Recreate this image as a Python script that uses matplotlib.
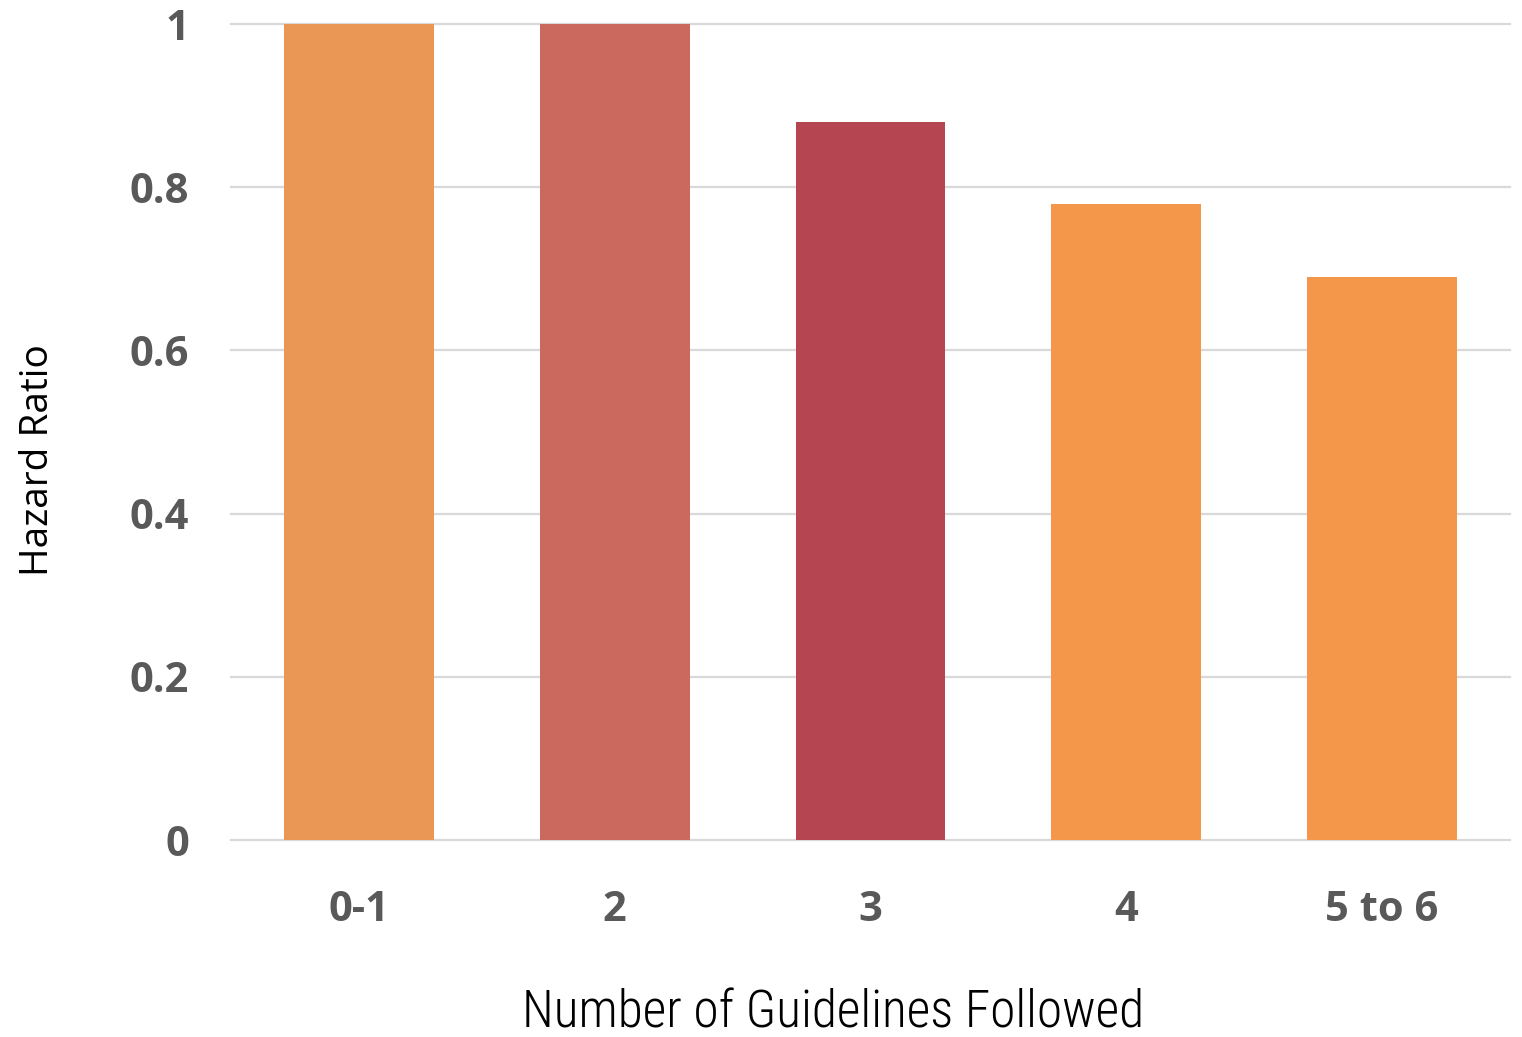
import matplotlib
matplotlib.use("Agg")
import matplotlib.pyplot as plt

categories = ["0-1", "2", "3", "4", "5 to 6"]
hazard_ratio = [1.0, 1.0, 0.88, 0.78, 0.69]
bar_colors = ["#EA9755", "#CB695F", "#B54551", "#F5974A", "#F5974A"]
y_ticks = [0, 0.2, 0.4, 0.6, 0.8, 1.0]
y_tick_labels = ["0", "0.2", "0.4", "0.6", "0.8", "1"]

W, H = 1522, 1037
fig = plt.figure(figsize=(W / 100, H / 100), dpi=100)
ax = fig.add_axes([231 / W, (H - 840) / H, (1510 - 231) / W, (840 - 24) / H])

x = list(range(len(categories)))
ax.bar(x, hazard_ratio, width=0.586, color=bar_colors, zorder=3)

ax.set_xlim(-0.5, len(categories) - 0.5)
ax.set_ylim(0, 1.0)
ax.set_yticks(y_ticks)
ax.set_yticklabels(y_tick_labels)
ax.set_xticks(x)
ax.set_xticklabels(categories)

for y in y_ticks:
    ax.axhline(y, color="#D9D9D9", linewidth=1.6, zorder=1, clip_on=False)

for s in ax.spines.values():
    s.set_visible(False)
ax.tick_params(axis="both", length=0, colors="#595959")
ax.tick_params(axis="y", pad=30)
ax.tick_params(axis="x", pad=36)
for lbl in ax.get_xticklabels() + ax.get_yticklabels():
    lbl.set_fontfamily(["Open Sans", "DejaVu Sans"])
    lbl.set_fontweight("bold")
    lbl.set_fontsize(30)

fig.text(833 / W, 1 - 1027 / H, "Number of Guidelines Followed",
         ha="center", va="baseline", fontsize=37, fontweight="light",
         color="black", family=["Roboto Condensed", "DejaVu Sans"])
fig.text(38 / W, 1 - 460 / H, "Hazard Ratio", rotation=90,
         ha="center", va="center", fontsize=28, color="black",
         family=["Open Sans", "DejaVu Sans"])

fig.savefig("out.png", dpi=100, facecolor="white")
